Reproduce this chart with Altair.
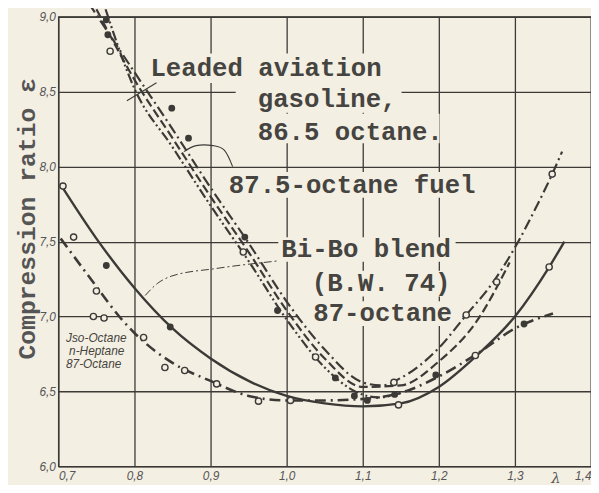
import altair as alt
import pandas as pd

BG = "#f4efe3"
INK = "#3b3a37"

x_ticks = [0.7, 0.8, 0.9, 1.0, 1.1, 1.2, 1.3, 1.4]
y_ticks = [6.0, 6.5, 7.0, 7.5, 8.0, 8.5, 9.0]

# --- curves ---
bibo_x = [0.703, 0.75, 0.8, 0.85, 0.9, 0.95, 1.0, 1.05, 1.1, 1.15, 1.2, 1.25, 1.3, 1.345, 1.365]
bibo_y = [7.88, 7.52, 7.19, 6.92, 6.72, 6.57, 6.47, 6.42, 6.40, 6.42, 6.53, 6.74, 7.0, 7.33, 7.5]

iso_x = [0.703, 0.75, 0.78, 0.8, 0.85, 0.9, 0.95, 1.0, 1.05, 1.1, 1.15, 1.2, 1.25, 1.3, 1.35]
iso_y = [7.52, 7.2, 7.0, 6.89, 6.69, 6.57, 6.47, 6.44, 6.44, 6.45, 6.49, 6.6, 6.75, 6.92, 7.02]

leaded_x = [0.74, 0.8, 0.85, 0.9, 0.95, 1.0, 1.05, 1.1, 1.125, 1.15, 1.2, 1.236, 1.27, 1.3, 1.327, 1.349, 1.362]
leaded_y = [9.09, 8.63, 8.25, 7.86, 7.49, 7.1, 6.78, 6.56, 6.54, 6.59, 6.79, 7.01, 7.22, 7.46, 7.72, 7.95, 8.1]

fuel_x = [0.75, 0.8, 0.85, 0.9, 0.95, 1.0, 1.05, 1.1, 1.15, 1.2, 1.25, 1.293]
fuel_y = [9.05, 8.58, 8.19, 7.8, 7.43, 7.04, 6.72, 6.53, 6.54, 6.70, 6.97, 7.36]

third_x = [0.762, 0.8, 0.85, 0.9, 0.95, 1.0, 1.05, 1.09, 1.12, 1.15]
third_y = [9.05, 8.52, 8.13, 7.74, 7.37, 6.98, 6.66, 6.5, 6.46, 6.49]

# --- measured points ---
filled_x = [0.763, 0.765, 0.849, 0.871, 0.945, 0.988, 1.064, 1.089, 1.106, 1.142, 1.196, 1.312, 0.763, 0.847]
filled_y = [8.98, 8.88, 8.39, 8.19, 7.53, 7.04, 6.59, 6.47, 6.44, 6.48, 6.61, 6.95, 7.34, 6.93]
open_x = [0.768, 0.706, 0.72, 0.75, 0.746, 0.76, 0.812, 0.84, 0.866, 0.908, 0.963, 1.005,
          0.943, 1.038, 1.141, 1.147, 1.248, 1.236, 1.276, 1.345, 1.349]
open_y = [8.77, 7.87, 7.53, 7.17, 7.0, 6.99, 6.86, 6.66, 6.64, 6.55, 6.435, 6.44,
          7.43, 6.73, 6.56, 6.41, 6.74, 7.01, 7.23, 7.33, 7.95]

# --- annotations ---
mono_text = ["Leaded aviation", "gasoline,", "86.5 octane.", "87.5-octane fuel",
             "Bi-Bo blend", "(B.W. 74)", "87-octane"]
mono_x = [0.821, 0.962, 0.962, 0.924, 0.993, 1.033, 1.035]
mono_y = [8.604, 8.40, 8.175, 7.826, 7.397, 7.167, 6.969]

iso_text = ["Jso-Octane", "n-Heptane", "87-Octane"]
iso_tx = [0.71, 0.714, 0.71]
iso_ty = [6.83, 6.742, 6.654]

mask_x = [0.817, 0.933, 0.956, 0.92, 0.989, 1.029, 1.016]
mask_x2 = [1.136, 1.151, 1.201, 1.254, 1.222, 1.205, 1.231]
mask_y = [8.755, 8.558, 8.353, 7.964, 7.529, 7.305, 7.101]
mask_y2 = [8.558, 8.36, 8.156, 7.793, 7.365, 7.134, 6.936]

leader_a_x = [0.829, 0.79]
leader_a_y = [8.56, 8.44]
leader_b_x = [0.929, 0.918, 0.903, 0.881, 0.865]
leader_b_y = [8.0, 8.11, 8.14, 8.14, 8.10]
leader_c_x = [0.814, 0.83, 0.849, 0.907, 0.987]
leader_c_y = [7.14, 7.22, 7.27, 7.32, 7.37]

LABEL_EXPR = "replace(format(datum.value, '.1f'), '.', ',')"


def X(field="x"):
    return alt.X(f"{field}:Q", scale=alt.Scale(domain=[0.7, 1.4], nice=False, zero=False),
                 axis=alt.Axis(values=x_ticks, labelExpr=LABEL_EXPR, grid=True, gridColor=INK,
                               gridWidth=1.3, domain=False, ticks=False, labelFont="Liberation Sans",
                               labelFontStyle="italic", labelFontSize=12, labelColor="#555",
                               labelPadding=4, labelFlush=True, title="λ", titleX=503, titleY=11,
                               titleBaseline="middle", titleFont="DejaVu Serif",
                               titleFontStyle="italic", titleFontWeight="normal",
                               titleFontSize=15, titleColor="#555"))


def Y(field="y"):
    return alt.Y(f"{field}:Q", scale=alt.Scale(domain=[6.0, 9.0], nice=False, zero=False),
                 axis=alt.Axis(values=y_ticks, labelExpr=LABEL_EXPR, grid=True, gridColor=INK,
                               gridWidth=1.3, domain=False, ticks=False, labelFont="Liberation Sans",
                               labelFontStyle="italic", labelFontSize=12, labelColor="#555",
                               labelPadding=3, title="Compression ratio ε", titleX=-32, titleY=204,
                               titleAngle=270, titleAlign="center", titleBaseline="middle",
                               titleFont="Liberation Mono", titleFontWeight="bold",
                               titleFontSize=25, titleColor="#555"))


def df(xs, ys):
    return pd.DataFrame({"x": xs, "y": ys, "o": list(range(len(xs)))})


masks = alt.Chart(pd.DataFrame({"x": mask_x, "x2": mask_x2, "y": mask_y, "y2": mask_y2})).mark_rect(
    color=BG).encode(x=X(), x2="x2:Q", y=Y(), y2="y2:Q")


def curve(xs, ys, dash, width=2.3):
    kw = dict(color=INK, strokeWidth=width, interpolate="monotone")
    if dash:
        kw["strokeDash"] = dash
    return alt.Chart(df(xs, ys)).mark_line(**kw).encode(x=X(), y=Y(), order="o:Q")


lines = [
    curve(bibo_x, bibo_y, None, 2.4),
    curve(iso_x, iso_y, [11, 5, 2, 5], 2.6),
    curve(leaded_x, leaded_y, [11, 4, 2, 4], 2.2),
    curve(fuel_x, fuel_y, [9, 4], 2.2),
    curve(third_x, third_y, [10, 3, 2, 3, 2, 3], 2.2),
]

leaders = [
    alt.Chart(df(leader_a_x, leader_a_y)).mark_line(color=INK, strokeWidth=1.1).encode(
        x=X(), y=Y(), order="o:Q"),
    alt.Chart(df(leader_b_x, leader_b_y)).mark_line(color=INK, strokeWidth=1.1, interpolate="cardinal").encode(
        x=X(), y=Y(), order="o:Q"),
    alt.Chart(df(leader_c_x, leader_c_y)).mark_line(color=INK, strokeWidth=1.0, interpolate="monotone",
                                                     strokeDash=[8, 3, 2, 3]).encode(
        x=X(), y=Y(), order="o:Q"),
]

filled_pts = alt.Chart(df(filled_x, filled_y)).mark_circle(color=INK, size=48, opacity=1).encode(x=X(), y=Y())
open_pts = alt.Chart(df(open_x, open_y)).mark_point(shape="circle", fill=BG, filled=False, stroke=INK,
                                                    strokeWidth=1.4, size=40, opacity=1,
                                                    fillOpacity=1).encode(x=X(), y=Y())

mono = alt.Chart(pd.DataFrame({"x": mono_x, "y": mono_y, "t": mono_text})).mark_text(
    align="left", baseline="alphabetic", font="Liberation Mono", fontSize=26, fontWeight="bold",
    color="#454440").encode(x=X(), y=Y(), text="t:N")

iso_lab = alt.Chart(pd.DataFrame({"x": iso_tx, "y": iso_ty, "t": iso_text})).mark_text(
    align="left", baseline="alphabetic", font="Liberation Sans", fontSize=12, fontStyle="italic",
    color="#454440").encode(x=X(), y=Y(), text="t:N")

chart = alt.layer(masks, *lines, *leaders, open_pts, filled_pts, mono, iso_lab).properties(
    width=539, height=455, background=BG,
    padding={"left": 51, "top": 6, "right": 0, "bottom": 16},
    autosize=alt.AutoSizeParams(type="none"),
).configure_view(stroke=INK, strokeWidth=1.3)

chart.save("out.html", embed_options={"renderer": "svg", "actions": False})
